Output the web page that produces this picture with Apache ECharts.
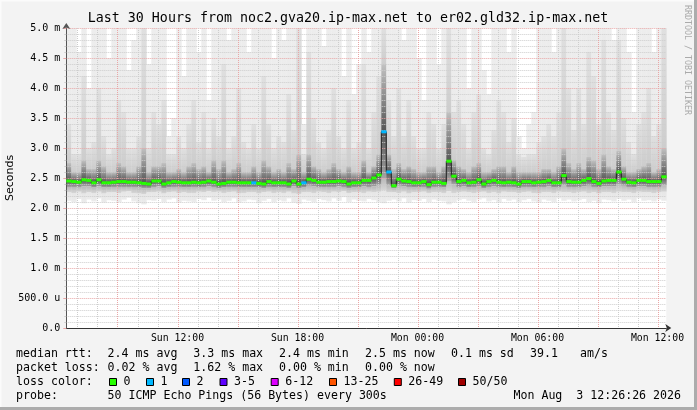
<!DOCTYPE html>
<html lang="en">
<head>
<meta charset="UTF-8">
<title>Smokeping - er02.gld32.ip-max.net</title>
<script src="https://cdn.jsdelivr.net/npm/echarts@6/dist/echarts.min.js"></script>
<style>
  html, body { margin: 0; padding: 0; background: #f3f3f3; }
  #main { width: 697px; height: 410px; }
</style>
</head>
<body>
<div id="main"></div>
<script>
// x is hours since Sun 00:00, one column = 15 minutes
const startHour = 6.44;
const stepHours = 0.25;

// median rtt per column (ms)
const median = [
  2.45,2.44,2.43,2.47,2.46,2.42,2.47,2.42,2.42,2.43, 2.44,2.44,2.43,2.43,2.42,2.41,2.40,2.45,2.45,2.40,
  2.42,2.44,2.43,2.42,2.42,2.43,2.42,2.43,2.45,2.43, 2.40,2.41,2.43,2.43,2.42,2.42,2.42,2.42,2.41,2.40,
  2.44,2.42,2.42,2.42,2.40,2.45,2.40,2.42,2.48,2.46, 2.43,2.43,2.44,2.44,2.45,2.44,2.40,2.42,2.42,2.46,
  2.46,2.50,2.55,3.27,2.60,2.37,2.48,2.45,2.44,2.42, 2.42,2.44,2.39,2.43,2.43,2.41,2.78,2.53,2.44,2.46,
  2.42,2.43,2.47,2.40,2.44,2.46,2.43,2.42,2.43,2.42, 2.40,2.44,2.44,2.42,2.43,2.44,2.46,2.42,2.42,2.54,
  2.44,2.43,2.43,2.46,2.49,2.44,2.41,2.45,2.46,2.46, 2.60,2.48,2.43,2.42,2.46,2.46,2.44,2.44,2.44,2.52
];
// lost pings (of 50) per column
const loss = [
  0,0,0,0,0,0,0,0,0,0, 0,0,0,0,0,0,0,0,0,0,
  0,0,0,0,0,0,0,0,0,0, 0,0,0,0,0,0,0,1,0,0,
  0,0,0,0,0,0,0,1,0,0, 0,0,0,0,0,0,0,0,0,0,
  0,0,0,1,1,0,0,0,0,0, 0,0,0,0,0,0,0,0,0,0,
  0,0,0,0,0,0,0,0,0,0, 0,0,0,0,0,0,0,0,0,0,
  0,0,0,0,0,0,0,0,0,0, 0,0,0,0,0,0,0,0,0,0
];
// smoke: spread of the 50 pings per column (ms)
const pMin = [
  2.12,2.10,2.15,2.08,2.14,2.11,2.16,2.09,2.13,2.12, 2.10,2.14,2.17,2.11,2.08,2.06,2.13,2.12,2.15,2.10,
  2.14,2.16,2.09,2.12,2.11,2.10,2.15,2.13,2.17,2.12, 2.14,2.10,2.12,2.16,2.09,2.11,2.14,2.13,2.08,2.12,
  2.15,2.10,2.13,2.11,2.16,2.09,2.07,2.14,2.12,2.10, 2.15,2.13,2.11,2.16,2.12,2.18,2.10,2.14,2.12,2.11,
  2.15,2.13,2.10,2.08,2.12,2.14,2.11,2.16,2.09,2.13, 2.12,2.15,2.10,2.14,2.12,2.11,2.06,2.10,2.13,2.15,
  2.12,2.10,2.14,2.16,2.11,2.13,2.09,2.15,2.12,2.14, 2.10,2.13,2.15,2.11,2.09,2.14,2.12,2.10,2.16,2.12,
  2.14,2.11,2.13,2.15,2.10,2.12,2.08,2.14,2.13,2.11, 2.15,2.12,2.14,2.10,2.16,2.12,2.13,2.11,2.14,2.12
];
const p10 = [
  2.26,2.25,2.27,2.24,2.26,2.25,2.27,2.24,2.26,2.26, 2.25,2.27,2.28,2.25,2.24,2.23,2.26,2.26,2.27,2.24,
  2.26,2.27,2.25,2.26,2.25,2.25,2.27,2.26,2.28,2.26, 2.27,2.25,2.26,2.27,2.24,2.25,2.26,2.26,2.24,2.26,
  2.27,2.25,2.26,2.25,2.27,2.24,2.23,2.26,2.26,2.25, 2.27,2.26,2.25,2.27,2.26,2.28,2.25,2.26,2.26,2.25,
  2.27,2.26,2.27,2.30,2.26,2.26,2.25,2.27,2.24,2.26, 2.26,2.27,2.25,2.26,2.26,2.25,2.28,2.25,2.26,2.27,
  2.26,2.25,2.26,2.27,2.25,2.26,2.24,2.27,2.26,2.26, 2.25,2.26,2.27,2.25,2.24,2.26,2.26,2.25,2.27,2.26,
  2.26,2.25,2.26,2.27,2.25,2.26,2.24,2.26,2.26,2.25, 2.27,2.26,2.26,2.25,2.27,2.26,2.26,2.25,2.26,2.27
];
const p25 = [
  2.35,2.35,2.35,2.36,2.36,2.34,2.36,2.34,2.34,2.35, 2.35,2.35,2.35,2.35,2.34,2.33,2.33,2.35,2.36,2.33,
  2.34,2.35,2.35,2.34,2.34,2.35,2.34,2.35,2.36,2.35, 2.33,2.34,2.35,2.35,2.34,2.34,2.34,2.34,2.34,2.33,
  2.35,2.34,2.34,2.34,2.33,2.36,2.33,2.34,2.37,2.36, 2.35,2.35,2.35,2.35,2.36,2.35,2.33,2.34,2.34,2.36,
  2.35,2.36,2.38,2.50,2.38,2.33,2.37,2.36,2.35,2.34, 2.34,2.35,2.32,2.35,2.35,2.34,2.45,2.40,2.35,2.36,
  2.34,2.35,2.36,2.33,2.35,2.36,2.35,2.34,2.35,2.34, 2.33,2.35,2.35,2.34,2.35,2.35,2.36,2.34,2.34,2.38,
  2.35,2.35,2.35,2.36,2.37,2.35,2.34,2.36,2.36,2.36, 2.40,2.37,2.35,2.34,2.36,2.36,2.35,2.35,2.35,2.38
];
const p75 = [
  2.75,2.60,2.60,2.80,2.65,2.65,2.80,2.70,2.60,2.60, 2.75,2.70,2.60,2.60,2.70,3.00,2.60,2.70,2.70,2.75,
  2.60,2.60,2.65,2.60,2.70,2.75,2.65,2.70,2.60,2.80, 2.65,2.80,2.60,2.65,2.75,2.60,2.60,2.70,2.60,2.80,
  2.70,2.60,2.65,2.60,2.75,2.65,2.90,2.60,2.90,2.70, 2.65,2.60,2.65,2.75,2.65,2.60,2.70,2.60,2.60,2.80,
  2.60,2.70,2.90,4.40,2.90,2.65,2.75,2.65,2.70,2.65, 2.60,2.60,2.70,2.70,2.60,2.70,3.60,2.80,2.70,2.65,
  2.60,2.70,2.75,2.60,2.60,2.65,2.70,2.70,2.60,2.70, 2.60,2.60,2.60,2.60,2.60,2.65,2.65,2.60,2.70,3.00,
  2.75,2.65,2.75,2.65,2.85,2.80,2.65,2.90,2.70,2.65, 2.95,2.70,2.60,2.60,2.65,2.70,2.75,2.60,2.65,3.00
];
const p90 = [
  3.4,2.9,2.9,4.2,3.0,3.1,4.0,3.2,2.9,3.0, 3.8,3.6,3.0,3.0,3.2,5.0,3.0,3.6,3.4,3.8,
  2.9,2.9,3.2,3.0,3.4,3.8,3.1,3.6,3.0,3.5, 3.2,4.4,3.0,3.2,4.0,3.1,3.0,3.4,3.0,4.2,
  3.4,3.0,3.2,3.1,3.9,3.3,5.0,2.9,4.6,3.5, 3.1,3.0,3.3,4.0,3.2,3.0,3.8,3.0,3.1,4.4,
  3.0,3.6,4.2,5.0,3.8,3.2,4.0,3.2,3.8,3.2, 3.0,3.0,3.6,3.4,3.0,3.4,5.0,3.6,3.8,3.4,
  3.0,3.6,3.9,3.0,2.9,3.3,3.8,3.6,3.1,3.5, 2.9,2.85,2.9,2.9,3.1,3.2,3.4,3.2,3.6,5.0,
  4.0,3.3,4.0,3.4,4.6,4.2,3.4,4.8,3.6,3.3, 4.8,3.5,3.1,2.9,3.4,3.6,4.0,3.2,3.4,5.0
];
const pMax = [
  5.0,5.0,4.6,5.0,4.0,5.0,5.0,5.0,4.5,5.0, 5.0,5.0,4.3,4.8,5.0,5.0,4.4,5.0,5.0,5.0,
  3.2,3.5,5.0,4.2,5.0,5.0,4.6,5.0,3.8,5.0, 5.0,5.0,4.8,5.0,5.0,5.0,4.6,5.0,5.0,5.0,
  5.0,4.5,5.0,4.8,5.0,5.0,5.0,3.4,5.0,5.0, 5.0,4.7,5.0,5.0,5.0,4.2,5.0,3.9,4.4,5.0,
  4.6,5.0,5.0,5.0,5.0,5.0,5.0,4.8,5.0,5.0, 4.5,3.8,5.0,5.0,4.4,5.0,5.0,5.0,5.0,5.0,
  4.0,5.0,5.0,4.3,3.9,5.0,5.0,5.0,4.6,5.0, 3.2,3.0,3.4,3.6,5.0,5.0,5.0,4.6,5.0,5.0,
  5.0,5.0,5.0,5.0,5.0,5.0,5.0,5.0,5.0,4.8, 5.0,5.0,4.6,3.6,5.0,5.0,5.0,4.6,5.0,5.0
];

const timeTicks = [12, 18, 24, 30, 36];
const timeTickLabels = ['Sun 12:00', 'Sun 18:00', 'Mon 00:00', 'Mon 06:00', 'Mon 12:00'];

const lossNames = ['0', '1', '2', '3-5', '6-12', '13-25', '26-49', '50/50'];
const lossLimits = [0, 1, 2, 5, 12, 25, 49, 50];
const lossColors = ['#26ff00', '#00b8ff', '#0059ff', '#5e00ff', '#dd00ff', '#ff5500', '#ff0000', '#a00000'];

const rttStats = ['2.4 ms avg', '3.3 ms max', '2.4 ms min', '2.5 ms now', '0.1 ms sd', '39.1', 'am/s'];
const lossStats = ['0.02 % avg', '1.62 % max', '0.00 % min', '0.00 % now'];
const probeText = '50 ICMP Echo Pings (56 Bytes) every 300s';
const stampText = 'Mon Aug  3 12:26:26 2026';
const titleText = 'Last 30 Hours from noc2.gva20.ip-max.net to er02.gld32.ip-max.net';

const MONO = '"DejaVu Sans Mono", monospace';
const endHour = startHour + median.length * stepHours;
const RED_GRID = '#e9a6a6';
const GREY_GRID = '#cdcdcd';

function lossColor(n) {
  for (let i = 0; i < lossLimits.length; i++) {
    if (n <= lossLimits[i]) return lossColors[i];
  }
  return lossColors[lossColors.length - 1];
}

function grad(top, bottom) {
  return new echarts.graphic.LinearGradient(0, 0, 0, 1, [
    { offset: 0, color: top }, { offset: 1, color: bottom }
  ]);
}

const smokeData = median.map((m, i) => [
  startHour + i * stepHours, pMin[i], p10[i], p25[i], m, p75[i], p90[i], pMax[i]
]);
const medianData = median.map((m, i) => [startHour + i * stepHours, m, loss[i]]);
const stepLine = median.map((m, i) => [startHour + (i + 0.5) * stepHours, m]);

// whole hours inside the window, for the vertical grid
const gridHours = [];
for (let h = Math.ceil(startHour); h < endHour; h++) gridHours.push([h]);

function renderSmoke(params, api) {
  const t = api.value(0);
  const v = [1, 2, 3, 4, 5, 6, 7].map(d => api.value(d));
  const x0 = api.coord([t, 0])[0];
  const x1 = api.coord([t + stepHours, 0])[0];
  // [low, high, bottom colour, top colour]
  const bands = [
    [v[0], v[1], '#ececec', '#e6e6e6'],
    [v[1], v[2], '#d6d6d6', '#b8b8b8'],
    [v[2], v[3], '#a4a4a4', '#545454'],
    [v[3], v[4], '#545454', '#c2c2c2'],
    [v[4], v[5], '#cdcdcd', '#e0e0e0'],
    [v[5], v[6], '#ebebeb', '#ededed']
  ];
  const children = [];
  bands.forEach(b => {
    if (b[1] <= b[0]) return;
    const yLo = api.coord([t, b[0]])[1];
    const yHi = api.coord([t, b[1]])[1];
    children.push({
      type: 'rect',
      shape: { x: x0, y: yHi, width: x1 - x0 + 0.4, height: yLo - yHi },
      style: { fill: grad(b[3], b[2]) }
    });
  });
  return { type: 'group', children: children };
}

function renderHourLine(params, api) {
  const h = api.value(0);
  const top = api.coord([h, 5]);
  const bottom = api.coord([h, 0]);
  const x = Math.round(top[0]) + 0.5;
  return {
    type: 'line',
    shape: { x1: x, y1: top[1], x2: x, y2: bottom[1] },
    style: { stroke: h % 3 === 0 ? RED_GRID : GREY_GRID, lineWidth: 1, lineDash: [1, 1] }
  };
}

function renderMedian(params, api) {
  const t = api.value(0);
  const m = api.value(1);
  const a = api.coord([t, m]);
  const b = api.coord([t + stepHours, m]);
  return {
    type: 'rect',
    shape: { x: a[0], y: a[1] - 1.5, width: b[0] - a[0] + 0.3, height: 3 },
    style: { fill: lossColor(api.value(2)) }
  };
}

// texts around the plot
const graphics = [];
function txt(x, y, text, opts) {
  graphics.push(Object.assign({
    type: 'text', x: x, y: y, silent: true,
    style: Object.assign({ text: text, font: '11.6px ' + MONO, fill: '#000',
      align: 'left', verticalAlign: 'middle' }, (opts && opts.style) || {})
  }, (opts && opts.el) || {}));
}
txt(348, 19, titleText, { style: { font: '13.3px ' + MONO, align: 'center' } });
txt(10.5, 178, 'Seconds', { style: { font: '11px "DejaVu Sans", sans-serif', align: 'center' },
  el: { rotation: Math.PI / 2 } });
txt(687, 60, 'RRDTOOL / TOBI OETIKER', { style: { font: '8.3px ' + MONO, fill: '#aaaaaa', align: 'center' },
  el: { rotation: -Math.PI / 2 } });

const statX = [107.6, 193.3, 279, 365, 451, 530, 580];
txt(16, 354, 'median rtt:');
rttStats.forEach((s, i) => txt(statX[i], 354, s));
txt(16, 368, 'packet loss:');
lossStats.forEach((s, i) => txt(statX[i], 368, s));
txt(16, 382, 'loss color:');
const boxX = [109, 146, 182, 219.5, 270.7, 329, 393.8, 458];
lossNames.forEach((n, i) => {
  graphics.push({
    type: 'rect', silent: true,
    shape: { x: boxX[i] + 0.5, y: 378.5, width: 7, height: 7 },
    style: { fill: lossColors[i], stroke: '#000', lineWidth: 1 }
  });
  txt(boxX[i] + 14.5, 382, n);
});
txt(16, 396, 'probe:');
txt(107.6, 396, probeText);
txt(681, 396, stampText, { style: { align: 'right' } });

// frame of the picture
graphics.push({ type: 'rect', silent: true, shape: { x: 0, y: 0, width: 697, height: 1.5 }, style: { fill: '#fbfbfb' } });
graphics.push({ type: 'rect', silent: true, shape: { x: 0, y: 0, width: 1.5, height: 410 }, style: { fill: '#fbfbfb' } });
graphics.push({ type: 'rect', silent: true, shape: { x: 694, y: 0, width: 3, height: 410 }, style: { fill: '#acacac' } });
graphics.push({ type: 'rect', silent: true, shape: { x: 0, y: 407, width: 697, height: 3 }, style: { fill: '#acacac' } });

const chart = echarts.init(document.getElementById('main'), null, { renderer: 'canvas' });

chart.setOption({
  animation: false,
  backgroundColor: '#f3f3f3',
  grid: { left: 66.3, top: 28, width: 600, height: 300, show: true,
    backgroundColor: '#ffffff', borderWidth: 0, containLabel: false },
  xAxis: {
    type: 'value', min: startHour, max: endHour, z: 3,
    axisLine: { show: true, symbol: ['none', 'arrow'], symbolSize: [6, 6], symbolOffset: [0, 5],
      lineStyle: { color: '#333', width: 1 } },
    axisTick: { show: false },
    splitLine: { show: false },
    axisLabel: {
      customValues: timeTicks,
      formatter: v => timeTickLabels[timeTicks.indexOf(v)] || '',
      fontFamily: MONO, fontSize: 9.8, color: '#000', margin: 5
    }
  },
  yAxis: {
    type: 'value', min: 0, max: 5, interval: 0.5, z: 3,
    axisLine: { show: true, symbol: ['none', 'arrow'], symbolSize: [6, 6], symbolOffset: [0, 5],
      lineStyle: { color: '#555', width: 1 } },
    axisTick: { show: true, length: 3, lineStyle: { color: RED_GRID } },
    minorTick: { show: true, splitNumber: 5, length: 2, lineStyle: { color: GREY_GRID } },
    splitLine: { show: true, lineStyle: { color: RED_GRID, type: [1, 1], width: 1 } },
    minorSplitLine: { show: true, lineStyle: { color: GREY_GRID, type: [1, 1], width: 1 } },
    axisLabel: {
      formatter: v => v === 0 ? '0.0' : (v < 1 ? (v * 1000).toFixed(1) + ' u' : v.toFixed(1) + ' m'),
      fontFamily: MONO, fontSize: 10, color: '#000', margin: 6
    }
  },
  series: [
    {
      name: 'smoke', type: 'custom', data: smokeData, renderItem: renderSmoke,
      encode: { x: 0, y: [1, 2, 3, 4, 5, 6, 7] }, clip: true, z: 1, silent: true
    },
    {
      name: 'hour grid', type: 'custom', data: gridHours, renderItem: renderHourLine,
      encode: { x: 0 }, clip: false, z: 3, silent: true
    },
    {
      name: 'steps', type: 'line', data: stepLine, step: 'middle', showSymbol: false,
      lineStyle: { color: '#1c1c1c', width: 1 }, z: 4, silent: true
    },
    {
      name: 'median', type: 'custom', data: medianData, renderItem: renderMedian,
      encode: { x: 0, y: 1 }, clip: true, z: 5, silent: true
    }
  ],
  graphic: { elements: graphics }
});
</script>
</body>
</html>
